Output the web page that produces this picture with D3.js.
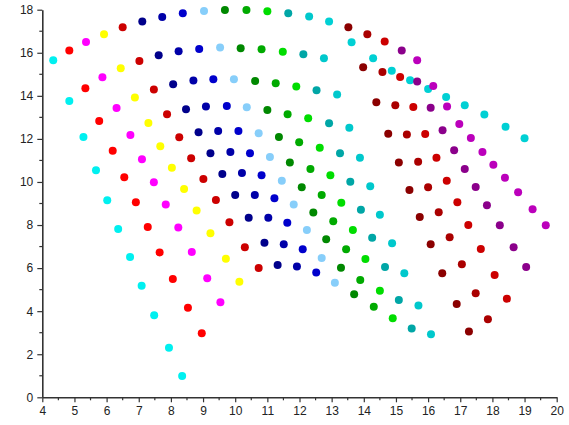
<!DOCTYPE html>
<html>
<head>
<meta charset="utf-8">
<script src="https://cdn.jsdelivr.net/npm/d3@7"></script>
<style>
  html, body { margin: 0; padding: 0; background: #fff; }
  svg { display: block; }
  .axis text { font-family: "Liberation Sans", Arial, sans-serif; font-size: 12px; fill: #222; }
  .axis path, .axis line { stroke: #333; }
</style>
</head>
<body>
<svg id="chart" width="569" height="425"></svg>
<script>
// Scatter grid: 20 columns x 11 rows, each column drawn in its own colour.
const xTicks = [4, 5, 6, 7, 8, 9, 10, 11, 12, 13, 14, 15, 16, 17, 18, 19, 20];
const yTicks = [0, 2, 4, 6, 8, 10, 12, 14, 16, 18];

const columnColors = [
  "#00f0f0", "#ff0000", "#ff00ff", "#ffff00", "#cc0000",
  "#00008b", "#0000a8", "#0000cc", "#87cefa", "#008800",
  "#00aa00", "#00dd00", "#00a6a6", "#00c8cc", "#00d0d4",
  "#8b0000", "#aa0000", "#cc0000", "#8b008b", "#bb00bb"
];

const col01X = [4.34, 4.84, 5.28, 5.67, 6.02, 6.36, 6.73, 7.09, 7.48, 7.94, 8.35];
const col01Y = [15.65, 13.76, 12.09, 10.54, 9.15, 7.82, 6.52, 5.18, 3.81, 2.30, 0.99];
const col02X = [4.84, 5.34, 5.77, 6.19, 6.55, 6.91, 7.28, 7.65, 8.06, 8.53, 8.96];
const col02Y = [16.10, 14.35, 12.83, 11.45, 10.22, 9.06, 7.91, 6.73, 5.49, 4.16, 2.97];
const col03X = [5.36, 5.87, 6.31, 6.74, 7.10, 7.47, 7.84, 8.23, 8.65, 9.13, 9.54];
const col03Y = [16.50, 14.86, 13.44, 12.18, 11.05, 9.99, 8.95, 7.88, 6.75, 5.53, 4.41];
const col04X = [5.92, 6.44, 6.88, 7.30, 7.67, 8.03, 8.41, 8.80, 9.23, 9.71, 10.13];
const col04Y = [16.86, 15.28, 13.92, 12.74, 11.66, 10.66, 9.67, 8.67, 7.62, 6.44, 5.37];
const col05X = [6.50, 7.02, 7.47, 7.88, 8.26, 8.63, 9.01, 9.40, 9.82, 10.30, 10.73];
const col05Y = [17.18, 15.62, 14.29, 13.14, 12.08, 11.10, 10.14, 9.16, 8.13, 6.97, 6.00];
const col06X = [7.11, 7.62, 8.07, 8.47, 8.86, 9.23, 9.60, 10.00, 10.42, 10.91, 11.32];
const col06Y = [17.45, 15.88, 14.54, 13.38, 12.31, 11.33, 10.37, 9.40, 8.34, 7.18, 6.14];
const col07X = [7.73, 8.24, 8.70, 9.09, 9.47, 9.85, 10.21, 10.61, 11.03, 11.51, 11.92];
const col07Y = [17.66, 16.07, 14.71, 13.50, 12.37, 11.39, 10.42, 9.40, 8.34, 7.11, 6.07];
const col08X = [8.37, 8.88, 9.32, 9.74, 10.10, 10.46, 10.82, 11.22, 11.62, 12.10, 12.52];
const col08Y = [17.83, 16.18, 14.77, 13.53, 12.37, 11.33, 10.31, 9.24, 8.11, 6.87, 5.79];
const col09X = [9.03, 9.53, 9.96, 10.36, 10.73, 11.08, 11.45, 11.82, 12.23, 12.69, 13.10];
const col09Y = [17.94, 16.24, 14.77, 13.47, 12.26, 11.16, 10.06, 8.95, 7.77, 6.47, 5.32];
const col10X = [9.68, 10.17, 10.62, 11.00, 11.36, 11.70, 12.07, 12.43, 12.83, 13.29, 13.70];
const col10Y = [17.99, 16.21, 14.69, 13.34, 12.09, 10.90, 9.75, 8.58, 7.34, 6.02, 4.78];
const col11X = [10.35, 10.82, 11.26, 11.63, 11.99, 12.34, 12.69, 13.05, 13.45, 13.89, 14.31];
const col11Y = [17.99, 16.16, 14.58, 13.14, 11.84, 10.60, 9.40, 8.17, 6.87, 5.45, 4.21];
const col12X = [11.00, 11.48, 11.90, 12.27, 12.63, 12.96, 13.30, 13.66, 14.05, 14.50, 14.90];
const col12Y = [17.93, 16.05, 14.43, 12.96, 11.59, 10.31, 9.04, 7.77, 6.42, 4.95, 3.67];
const col13X = [11.65, 12.12, 12.53, 12.92, 13.26, 13.58, 13.91, 14.26, 14.66, 15.09, 15.49];
const col13Y = [17.84, 15.93, 14.26, 12.73, 11.33, 10.01, 8.71, 7.41, 6.05, 4.52, 3.20];
const col14X = [12.30, 12.76, 13.17, 13.55, 13.88, 14.20, 14.50, 14.88, 15.26, 15.70, 16.09];
const col14Y = [17.68, 15.75, 14.06, 12.52, 11.13, 9.80, 8.48, 7.15, 5.76, 4.26, 2.93];
const col15X = [12.92, 13.62, 14.29, 14.87, 15.44, 16.00, 16.56, 17.14, 17.75, 18.41, 19.00];
const col15Y = [17.45, 16.49, 15.75, 15.17, 14.72, 14.32, 13.95, 13.56, 13.13, 12.57, 12.03];
const col16X = [13.52, 13.98, 14.39, 14.76, 15.09, 15.42, 15.74, 16.08, 16.44, 16.89, 17.27];
const col16Y = [17.19, 15.33, 13.70, 12.24, 10.90, 9.63, 8.37, 7.11, 5.76, 4.33, 3.05];
const col17X = [14.11, 14.58, 14.98, 15.34, 15.69, 16.00, 16.33, 16.67, 17.05, 17.48, 17.86];
const col17Y = [16.86, 15.11, 13.56, 12.20, 10.94, 9.75, 8.59, 7.43, 6.18, 4.83, 3.62];
const col18X = [14.65, 15.13, 15.54, 15.91, 16.26, 16.58, 16.91, 17.25, 17.64, 18.07, 18.45];
const col18Y = [16.52, 14.88, 13.48, 12.23, 11.13, 10.06, 9.06, 8.00, 6.89, 5.68, 4.58];
const col19X = [15.18, 15.66, 16.08, 16.45, 16.81, 17.14, 17.48, 17.83, 18.23, 18.66, 19.05];
const col19Y = [16.10, 14.66, 13.45, 12.40, 11.47, 10.60, 9.77, 8.92, 7.99, 6.97, 6.05];
const col20X = [15.66, 16.16, 16.59, 16.97, 17.33, 17.69, 18.03, 18.39, 18.80, 19.25, 19.66];
const col20Y = [15.65, 14.46, 13.50, 12.69, 12.04, 11.39, 10.80, 10.20, 9.52, 8.73, 7.99];

const columnsX = [col01X, col02X, col03X, col04X, col05X, col06X, col07X, col08X, col09X, col10X,
                  col11X, col12X, col13X, col14X, col15X, col16X, col17X, col18X, col19X, col20X];
const columnsY = [col01Y, col02Y, col03Y, col04Y, col05Y, col06Y, col07Y, col08Y, col09Y, col10Y,
                  col11Y, col12Y, col13Y, col14Y, col15Y, col16Y, col17Y, col18Y, col19Y, col20Y];

const points = [];
columnsX.forEach((xs, c) => {
  xs.forEach((x, r) => points.push({ x, y: columnsY[c][r], c }));
});

const svg = d3.select("#chart");
const plot = { left: 42.3, right: 556.7, top: 9.7, bottom: 397.3 };

const x = d3.scaleLinear().domain([4, 20]).range([plot.left, plot.right]);
const y = d3.scaleLinear().domain([0, 18]).range([plot.bottom, plot.top]);

// minor ticks at half the major step
const xMinor = d3.range(4.5, 20, 1);
const yMinor = d3.range(1, 18, 2);

const xAxis = svg.append("g").attr("class", "axis")
  .attr("transform", `translate(0,${plot.bottom})`)
  .call(d3.axisBottom(x).tickValues(xTicks).tickFormat(d3.format("d")).tickSize(5).tickSizeOuter(0).tickPadding(4));
xAxis.selectAll(".tick.minor").data(xMinor).enter().append("line")
  .attr("x1", d => x(d)).attr("x2", d => x(d)).attr("y1", 0).attr("y2", 3)
  .attr("stroke", "#333");

const yAxis = svg.append("g").attr("class", "axis")
  .attr("transform", `translate(${plot.left},0)`)
  .call(d3.axisLeft(y).tickValues(yTicks).tickFormat(d3.format("d")).tickSize(5).tickSizeOuter(0).tickPadding(4));
yAxis.selectAll(".tick.minor").data(yMinor).enter().append("line")
  .attr("y1", d => y(d)).attr("y2", d => y(d)).attr("x1", 0).attr("x2", -3)
  .attr("stroke", "#333");

svg.selectAll(".axis path.domain").attr("stroke-width", 1.6);
svg.selectAll(".axis line").attr("stroke-width", 1.2);

svg.append("g")
  .selectAll("circle")
  .data(points)
  .enter().append("circle")
  .attr("cx", d => x(d.x))
  .attr("cy", d => y(d.y))
  .attr("r", 4)
  .attr("fill", d => columnColors[d.c]);
</script>
</body>
</html>
